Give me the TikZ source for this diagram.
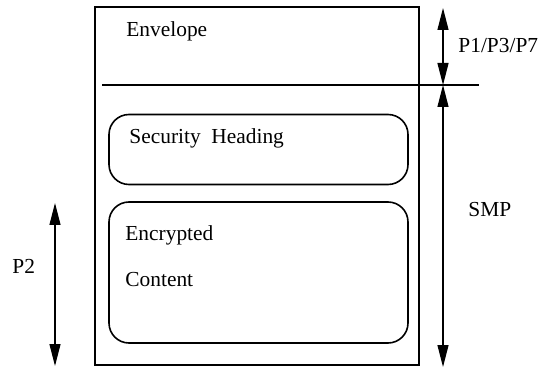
\documentclass[tikz,border=0pt]{standalone}
\usepackage{fontspec}
\setmainfont{Liberation Serif}
\usetikzlibrary{arrows.meta,positioning}

\begin{document}
\begin{tikzpicture}[x=0.5pt, y=-0.5pt, auto]

    \tikzstyle{caja} = [
        rectangle,
        draw,
        line width=1pt,
        inner sep=0pt,
    ]
    \tikzstyle{redonda} = [
        rectangle,
        draw,
        rounded corners=10pt,
        line width=0.8pt,
        inner sep=0pt,
        minimum width=149.5pt,
    ]
    \tikzstyle{texto} = [
        anchor=base west,
        inner sep=0pt,
        font=\fontsize{10.7}{13}\selectfont,
    ]
    \tikzstyle{line} = [
        draw,
        line width=0.6pt,
        >={Triangle[length=11pt,width=5.5pt]},
        <->,
    ]

    \useasboundingbox (0,0) rectangle (545,368);

    % mensaje completo
    \node [caja, minimum width=162pt, minimum height=179pt] (msg) at (257,186) {};

    \coordinate (sepizq) at (102,85);
    \coordinate (sepder) at (479,85);
    \draw [line width=1pt] (sepizq) -- (sepder);

    \node [texto] (env) at (126,37) {Envelope};

    % cabecera y contenido
    \node [redonda, minimum height=35pt] (sec) at (258.5,149.5) {};
    \node [texto] at (129,144) {Security\ \ Heading};

    \node [redonda, minimum height=70.5pt] (enc) at (258.5,272.5) {};
    \node [texto] (encr) at (125,241) {Encrypted};
    \node [texto, below = 22.5pt of encr.base west, anchor=base west] (cont) {Content};

    % flechas
    \coordinate (arriba) at (443,8);
    \coordinate (medio) at (443,85);
    \coordinate (abajo) at (443,367);
    \path [line] (arriba) -- (medio);
    \path [line] (medio) -- (abajo);

    \node [texto] (p137) at (458,53) {P1/P3/P7};
    \node [texto] (smp) at (468,217) {SMP};

    \coordinate (p2arr) at (55,203);
    \coordinate (p2abj) at (55,366);
    \path [line] (p2arr) -- (p2abj);

    \node [texto] (p2) at (12,274) {P2};

\end{tikzpicture}
\end{document}
